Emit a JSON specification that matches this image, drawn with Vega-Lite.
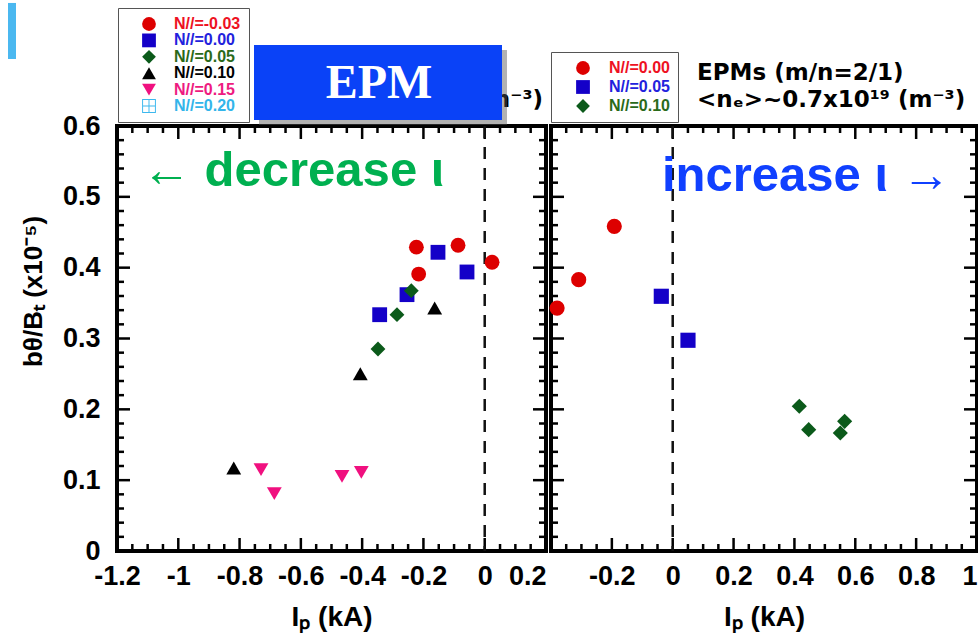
{
  "$schema": "https://vega.github.io/schema/vega-lite/v6.json",
  "padding": {"left": 6, "top": 0, "right": 0, "bottom": 0},
  "bounds": "flush",
  "spacing": 5,
  "datasets": {
    "left": [
      {"ip": -0.1525, "b": 0.4217, "n": "N//=0.00"},
      {"ip": -0.0578, "b": 0.3939, "n": "N//=0.00"},
      {"ip": -0.2536, "b": 0.3619, "n": "N//=0.00"},
      {"ip": -0.3428, "b": 0.3336, "n": "N//=0.00"},
      {"ip": -0.223, "b": 0.429, "n": "N//=-0.03"},
      {"ip": -0.2155, "b": 0.391, "n": "N//=-0.03"},
      {"ip": -0.087, "b": 0.4316, "n": "N//=-0.03"},
      {"ip": 0.024, "b": 0.4076, "n": "N//=-0.03"},
      {"ip": -0.2395, "b": 0.3675, "n": "N//=0.05"},
      {"ip": -0.2863, "b": 0.3336, "n": "N//=0.05"},
      {"ip": -0.3483, "b": 0.2852, "n": "N//=0.05"},
      {"ip": -0.1633, "b": 0.343, "n": "N//=0.10"},
      {"ip": -0.406, "b": 0.2503, "n": "N//=0.10"},
      {"ip": -0.819, "b": 0.1172, "n": "N//=0.10"},
      {"ip": -0.73, "b": 0.1148, "n": "N//=0.15"},
      {"ip": -0.6866, "b": 0.0809, "n": "N//=0.15"},
      {"ip": -0.4657, "b": 0.1054, "n": "N//=0.15"},
      {"ip": -0.4027, "b": 0.111, "n": "N//=0.15"}
    ],
    "right": [
      {"ip": -0.38, "b": 0.343, "n": "N//=0.00"},
      {"ip": -0.309, "b": 0.383, "n": "N//=0.00"},
      {"ip": -0.192, "b": 0.4584, "n": "N//=0.00"},
      {"ip": -0.0375, "b": 0.3596, "n": "N//=0.05"},
      {"ip": 0.0502, "b": 0.2975, "n": "N//=0.05"},
      {"ip": 0.416, "b": 0.2043, "n": "N//=0.10"},
      {"ip": 0.4469, "b": 0.1713, "n": "N//=0.10"},
      {"ip": 0.5508, "b": 0.1666, "n": "N//=0.10"},
      {"ip": 0.565, "b": 0.1831, "n": "N//=0.10"}
    ]
  },
  "hconcat": [
    {
      "width": 429,
      "height": 425,
      "data": {"name": "left"},
      "resolve": {"scale": {"x": "independent", "y": "independent"}, "axis": {"x": "independent", "y": "independent"}},
      "layer": [
        {"data": {"values": [{"v": -1.2}, {"v": -1.0}, {"v": -0.8}, {"v": -0.6}, {"v": -0.4}, {"v": -0.2}, {"v": 0}, {"v": 0.2}]},
          "mark": {"type": "rule", "strokeWidth": 2.5, "color": "black"},
          "encoding": {"x": {"field": "v", "type": "quantitative", "scale": {"domain": [-1.2, 0.2], "nice": false, "zero": false}, "axis": null},
            "y": {"datum": 0, "type": "quantitative", "scale": {"domain": [0, 0.6], "nice": false, "zero": false}, "axis": null}, "y2": {"datum": 0.01835}}},
        {"data": {"values": [{"v": -1.2}, {"v": -1.0}, {"v": -0.8}, {"v": -0.6}, {"v": -0.4}, {"v": -0.2}, {"v": 0}, {"v": 0.2}]},
          "mark": {"type": "rule", "strokeWidth": 2.5, "color": "black"},
          "encoding": {"x": {"field": "v", "type": "quantitative", "scale": {"domain": [-1.2, 0.2], "nice": false, "zero": false}, "axis": null},
            "y": {"datum": 0.6, "type": "quantitative", "scale": {"domain": [0, 0.6], "nice": false, "zero": false}, "axis": null}, "y2": {"datum": 0.58165}}},
        {"data": {"values": [{"v": -1.15}, {"v": -1.1}, {"v": -1.05}, {"v": -0.95}, {"v": -0.9}, {"v": -0.85}, {"v": -0.75}, {"v": -0.7}, {"v": -0.65}, {"v": -0.55}, {"v": -0.5}, {"v": -0.45}, {"v": -0.35}, {"v": -0.3}, {"v": -0.25}, {"v": -0.15}, {"v": -0.1}, {"v": -0.05}, {"v": 0.05}, {"v": 0.1}, {"v": 0.15}]},
          "mark": {"type": "rule", "strokeWidth": 2.5, "color": "black"},
          "encoding": {"x": {"field": "v", "type": "quantitative", "scale": {"domain": [-1.2, 0.2], "nice": false, "zero": false}, "axis": null},
            "y": {"datum": 0, "type": "quantitative", "scale": {"domain": [0, 0.6], "nice": false, "zero": false}, "axis": null}, "y2": {"datum": 0.00988}}},
        {"data": {"values": [{"v": -1.15}, {"v": -1.1}, {"v": -1.05}, {"v": -0.95}, {"v": -0.9}, {"v": -0.85}, {"v": -0.75}, {"v": -0.7}, {"v": -0.65}, {"v": -0.55}, {"v": -0.5}, {"v": -0.45}, {"v": -0.35}, {"v": -0.3}, {"v": -0.25}, {"v": -0.15}, {"v": -0.1}, {"v": -0.05}, {"v": 0.05}, {"v": 0.1}, {"v": 0.15}]},
          "mark": {"type": "rule", "strokeWidth": 2.5, "color": "black"},
          "encoding": {"x": {"field": "v", "type": "quantitative", "scale": {"domain": [-1.2, 0.2], "nice": false, "zero": false}, "axis": null},
            "y": {"datum": 0.6, "type": "quantitative", "scale": {"domain": [0, 0.6], "nice": false, "zero": false}, "axis": null}, "y2": {"datum": 0.59012}}},
        {"data": {"values": [{"v": 0}, {"v": 0.1}, {"v": 0.2}, {"v": 0.3}, {"v": 0.4}, {"v": 0.5}, {"v": 0.6}]},
          "mark": {"type": "rule", "strokeWidth": 2.5, "color": "black"},
          "encoding": {"y": {"field": "v", "type": "quantitative", "scale": {"domain": [0, 0.6], "nice": false, "zero": false}, "axis": null},
            "x": {"datum": -1.2, "type": "quantitative", "scale": {"domain": [-1.2, 0.2], "nice": false, "zero": false}, "axis": null}, "x2": {"datum": -1.1576}}},
        {"data": {"values": [{"v": 0}, {"v": 0.1}, {"v": 0.2}, {"v": 0.3}, {"v": 0.4}, {"v": 0.5}, {"v": 0.6}]},
          "mark": {"type": "rule", "strokeWidth": 2.5, "color": "black"},
          "encoding": {"y": {"field": "v", "type": "quantitative", "scale": {"domain": [0, 0.6], "nice": false, "zero": false}, "axis": null},
            "x": {"datum": 0.2, "type": "quantitative", "scale": {"domain": [-1.2, 0.2], "nice": false, "zero": false}, "axis": null}, "x2": {"datum": 0.1576}}},
        {"data": {"values": [{"v": 0.02}, {"v": 0.04}, {"v": 0.06}, {"v": 0.08}, {"v": 0.12}, {"v": 0.14}, {"v": 0.16}, {"v": 0.18}, {"v": 0.22}, {"v": 0.24}, {"v": 0.26}, {"v": 0.28}, {"v": 0.32}, {"v": 0.34}, {"v": 0.36}, {"v": 0.38}, {"v": 0.42}, {"v": 0.44}, {"v": 0.46}, {"v": 0.48}, {"v": 0.52}, {"v": 0.54}, {"v": 0.56}, {"v": 0.58}]},
          "mark": {"type": "rule", "strokeWidth": 2.5, "color": "black"},
          "encoding": {"y": {"field": "v", "type": "quantitative", "scale": {"domain": [0, 0.6], "nice": false, "zero": false}, "axis": null},
            "x": {"datum": -1.2, "type": "quantitative", "scale": {"domain": [-1.2, 0.2], "nice": false, "zero": false}, "axis": null}, "x2": {"datum": -1.17716}}},
        {"data": {"values": [{"v": 0.02}, {"v": 0.04}, {"v": 0.06}, {"v": 0.08}, {"v": 0.12}, {"v": 0.14}, {"v": 0.16}, {"v": 0.18}, {"v": 0.22}, {"v": 0.24}, {"v": 0.26}, {"v": 0.28}, {"v": 0.32}, {"v": 0.34}, {"v": 0.36}, {"v": 0.38}, {"v": 0.42}, {"v": 0.44}, {"v": 0.46}, {"v": 0.48}, {"v": 0.52}, {"v": 0.54}, {"v": 0.56}, {"v": 0.58}]},
          "mark": {"type": "rule", "strokeWidth": 2.5, "color": "black"},
          "encoding": {"y": {"field": "v", "type": "quantitative", "scale": {"domain": [0, 0.6], "nice": false, "zero": false}, "axis": null},
            "x": {"datum": 0.2, "type": "quantitative", "scale": {"domain": [-1.2, 0.2], "nice": false, "zero": false}, "axis": null}, "x2": {"datum": 0.17716}}},
        {
          "data": {"values": [{}]},
          "mark": {"type": "rule", "strokeDash": [12, 9], "strokeWidth": 2.5, "color": "#111111"},
          "encoding": {
            "x": {"datum": 0, "type": "quantitative", "scale": {"domain": [-1.2, 0.2], "nice": false, "zero": false}, "axis": null}
          }
        },
        {
          "mark": {"type": "point", "filled": true, "opacity": 1, "size": 220},
          "encoding": {
            "x": {"field": "ip", "type": "quantitative", "scale": {"domain": [-1.2, 0.2], "nice": false, "zero": false},
              "axis": {"orient": "bottom", "values": [-1.2, -1, -0.8, -0.6, -0.4, -0.2, 0, 0.2], "ticks": false, "domain": false, "grid": false, "title": "Iₚ (kA)",
                "labelExpr": "'' + round(datum.value*100)/100",
                "labelAlign": {"condition": {"test": "datum.value > 0.1", "value": "right"}, "value": "center"},
                "labelPadding": 12, "titlePadding": 14}},
            "y": {"field": "b", "type": "quantitative", "scale": {"domain": [0, 0.6], "nice": false, "zero": false},
              "axis": {"orient": "left", "values": [0, 0.1, 0.2, 0.3, 0.4, 0.5, 0.6], "ticks": false, "domain": false, "grid": false, "title": "bθ/Bₜ (x10⁻⁵)",
                "labelExpr": "'' + round(datum.value*100)/100", "labelPadding": 17, "titlePadding": 16, "titleFontSize": 26, "titleY": 165}},
            "color": {"field": "n", "type": "nominal",
              "scale": {"domain": ["N//=-0.03", "N//=0.00", "N//=0.05", "N//=0.10", "N//=0.15", "N//=0.20"], "range": ["#dd0000", "#1400c8", "#0b5a1a", "#000000", "#f0107f", "#3cb8ee"]},
              "legend": {"title": null, "orient": "none", "legendX": 1, "legendY": -118, "symbolOffset": 15, "labelOffset": 17, "rowPadding": 0.4,
                "encoding": {
                  "labels": {
                    "fill": {"condition": [
                      {"test": "datum.value==='N//=-0.03'", "value": "#ee1122"},
                      {"test": "datum.value==='N//=0.00'", "value": "#2222dd"},
                      {"test": "datum.value==='N//=0.05'", "value": "#2a6a1a"},
                      {"test": "datum.value==='N//=0.10'", "value": "#000000"},
                      {"test": "datum.value==='N//=0.15'", "value": "#ee1a80"}], "value": "#33b5ea"}}
                }}},
            "shape": {"field": "n", "type": "nominal",
              "scale": {"domain": ["N//=-0.03", "N//=0.00", "N//=0.05", "N//=0.10", "N//=0.15", "N//=0.20"], "range": ["circle", "square", "diamond", "triangle-up", "triangle-down", "M-1,-1H1V1H-1Z M-0.86,-0.86V-0.07H-0.07V-0.86Z M0.07,-0.86V-0.07H0.86V-0.86Z M-0.86,0.07V0.86H-0.07V0.07Z M0.07,0.07V0.86H0.86V0.07Z"]}}
          }
        },
        {
          "data": {"values": [{}]},
          "mark": {"type": "text", "text": "← decrease ι", "font": "Liberation Sans", "fontWeight": "bold", "fontSize": 49, "color": "#00b050", "align": "left", "baseline": "alphabetic"},
          "encoding": {
            "x": {"datum": -1.1184, "type": "quantitative", "scale": {"domain": [-1.2, 0.2], "nice": false, "zero": false}, "axis": null},
            "y": {"datum": 0.5153, "type": "quantitative", "scale": {"domain": [0, 0.6], "nice": false, "zero": false}, "axis": null}
          }
        },
        {
          "data": {"values": [{}]},
          "mark": {"type": "text", "text": "EPMs (m/n=2/1)", "font": "DejaVu Sans", "fontWeight": "bold", "fontSize": 23, "color": "black", "align": "right", "baseline": "alphabetic"},
          "encoding": {
            "x": {"datum": 0.0107, "type": "quantitative", "scale": {"domain": [-1.2, 0.2], "nice": false, "zero": false}, "axis": null},
            "y": {"datum": 0.665, "type": "quantitative", "scale": {"domain": [0, 0.6], "nice": false, "zero": false}, "axis": null}
          }
        },
        {
          "data": {"values": [{}]},
          "mark": {"type": "text", "text": "<nₑ>~0.7x10¹⁹ (m⁻³)", "font": "DejaVu Sans", "fontWeight": "bold", "fontSize": 23, "color": "black", "align": "right", "baseline": "alphabetic"},
          "encoding": {
            "x": {"datum": 0.1902, "type": "quantitative", "scale": {"domain": [-1.2, 0.2], "nice": false, "zero": false}, "axis": null},
            "y": {"datum": 0.6268, "type": "quantitative", "scale": {"domain": [0, 0.6], "nice": false, "zero": false}, "axis": null}
          }
        },
        {
          "data": {"values": [{}]},
          "mark": {"type": "rect", "color": "#555555", "opacity": 0.45},
          "encoding": {
            "x": {"datum": -0.7366, "type": "quantitative", "scale": {"domain": [-1.2, 0.2], "nice": false, "zero": false}, "axis": null},
            "x2": {"datum": 0.0727},
            "y": {"datum": 0.7073, "type": "quantitative", "scale": {"domain": [0, 0.6], "nice": false, "zero": false}, "axis": null},
            "y2": {"datum": 0.6014}
          }
        },
        {
          "data": {"values": [{}]},
          "mark": {"type": "rect", "color": "#0a42f7", "opacity": 1},
          "encoding": {
            "x": {"datum": -0.7529, "type": "quantitative", "scale": {"domain": [-1.2, 0.2], "nice": false, "zero": false}, "axis": null},
            "x2": {"datum": 0.0564},
            "y": {"datum": 0.7144, "type": "quantitative", "scale": {"domain": [0, 0.6], "nice": false, "zero": false}, "axis": null},
            "y2": {"datum": 0.6085}
          }
        },
        {
          "data": {"values": [{}]},
          "mark": {"type": "text", "text": "EPM", "font": "Liberation Serif", "fontWeight": "bold", "fontSize": 48, "color": "white", "align": "center", "baseline": "alphabetic"},
          "encoding": {
            "x": {"datum": -0.345, "type": "quantitative", "scale": {"domain": [-1.2, 0.2], "nice": false, "zero": false}, "axis": null},
            "y": {"datum": 0.6395, "type": "quantitative", "scale": {"domain": [0, 0.6], "nice": false, "zero": false}, "axis": null}
          }
        },
        {
          "data": {"values": [{}]},
          "mark": {"type": "rect", "color": "#4bb8f0", "opacity": 1},
          "encoding": {
            "x": {"datum": -1.5557, "type": "quantitative", "scale": {"domain": [-1.2, 0.2], "nice": false, "zero": false}, "axis": null},
            "x2": {"datum": -1.5296},
            "y": {"datum": 0.7737, "type": "quantitative", "scale": {"domain": [0, 0.6], "nice": false, "zero": false}, "axis": null},
            "y2": {"datum": 0.6946}
          }
        }
      ]
    },
    {
      "width": 426,
      "height": 425,
      "data": {"name": "right"},
      "resolve": {"scale": {"x": "independent", "y": "independent"}, "axis": {"x": "independent", "y": "independent"}},
      "layer": [
        {"data": {"values": [{"v": -0.4}, {"v": -0.2}, {"v": 0}, {"v": 0.2}, {"v": 0.4}, {"v": 0.6}, {"v": 0.8}, {"v": 1.0}]},
          "mark": {"type": "rule", "strokeWidth": 2.5, "color": "black"},
          "encoding": {"x": {"field": "v", "type": "quantitative", "scale": {"domain": [-0.4, 1.0], "nice": false, "zero": false}, "axis": null},
            "y": {"datum": 0, "type": "quantitative", "scale": {"domain": [0, 0.6], "nice": false, "zero": false}, "axis": null}, "y2": {"datum": 0.01835}}},
        {"data": {"values": [{"v": -0.4}, {"v": -0.2}, {"v": 0}, {"v": 0.2}, {"v": 0.4}, {"v": 0.6}, {"v": 0.8}, {"v": 1.0}]},
          "mark": {"type": "rule", "strokeWidth": 2.5, "color": "black"},
          "encoding": {"x": {"field": "v", "type": "quantitative", "scale": {"domain": [-0.4, 1.0], "nice": false, "zero": false}, "axis": null},
            "y": {"datum": 0.6, "type": "quantitative", "scale": {"domain": [0, 0.6], "nice": false, "zero": false}, "axis": null}, "y2": {"datum": 0.58165}}},
        {"data": {"values": [{"v": -0.35}, {"v": -0.3}, {"v": -0.25}, {"v": -0.15}, {"v": -0.1}, {"v": -0.05}, {"v": 0.05}, {"v": 0.1}, {"v": 0.15}, {"v": 0.25}, {"v": 0.3}, {"v": 0.35}, {"v": 0.45}, {"v": 0.5}, {"v": 0.55}, {"v": 0.65}, {"v": 0.7}, {"v": 0.75}, {"v": 0.85}, {"v": 0.9}, {"v": 0.95}]},
          "mark": {"type": "rule", "strokeWidth": 2.5, "color": "black"},
          "encoding": {"x": {"field": "v", "type": "quantitative", "scale": {"domain": [-0.4, 1.0], "nice": false, "zero": false}, "axis": null},
            "y": {"datum": 0, "type": "quantitative", "scale": {"domain": [0, 0.6], "nice": false, "zero": false}, "axis": null}, "y2": {"datum": 0.00988}}},
        {"data": {"values": [{"v": -0.35}, {"v": -0.3}, {"v": -0.25}, {"v": -0.15}, {"v": -0.1}, {"v": -0.05}, {"v": 0.05}, {"v": 0.1}, {"v": 0.15}, {"v": 0.25}, {"v": 0.3}, {"v": 0.35}, {"v": 0.45}, {"v": 0.5}, {"v": 0.55}, {"v": 0.65}, {"v": 0.7}, {"v": 0.75}, {"v": 0.85}, {"v": 0.9}, {"v": 0.95}]},
          "mark": {"type": "rule", "strokeWidth": 2.5, "color": "black"},
          "encoding": {"x": {"field": "v", "type": "quantitative", "scale": {"domain": [-0.4, 1.0], "nice": false, "zero": false}, "axis": null},
            "y": {"datum": 0.6, "type": "quantitative", "scale": {"domain": [0, 0.6], "nice": false, "zero": false}, "axis": null}, "y2": {"datum": 0.59012}}},
        {"data": {"values": [{"v": 0}, {"v": 0.1}, {"v": 0.2}, {"v": 0.3}, {"v": 0.4}, {"v": 0.5}, {"v": 0.6}]},
          "mark": {"type": "rule", "strokeWidth": 2.5, "color": "black"},
          "encoding": {"y": {"field": "v", "type": "quantitative", "scale": {"domain": [0, 0.6], "nice": false, "zero": false}, "axis": null},
            "x": {"datum": -0.4, "type": "quantitative", "scale": {"domain": [-0.4, 1.0], "nice": false, "zero": false}, "axis": null}, "x2": {"datum": -0.3573}}},
        {"data": {"values": [{"v": 0}, {"v": 0.1}, {"v": 0.2}, {"v": 0.3}, {"v": 0.4}, {"v": 0.5}, {"v": 0.6}]},
          "mark": {"type": "rule", "strokeWidth": 2.5, "color": "black"},
          "encoding": {"y": {"field": "v", "type": "quantitative", "scale": {"domain": [0, 0.6], "nice": false, "zero": false}, "axis": null},
            "x": {"datum": 1.0, "type": "quantitative", "scale": {"domain": [-0.4, 1.0], "nice": false, "zero": false}, "axis": null}, "x2": {"datum": 0.9573}}},
        {"data": {"values": [{"v": 0.02}, {"v": 0.04}, {"v": 0.06}, {"v": 0.08}, {"v": 0.12}, {"v": 0.14}, {"v": 0.16}, {"v": 0.18}, {"v": 0.22}, {"v": 0.24}, {"v": 0.26}, {"v": 0.28}, {"v": 0.32}, {"v": 0.34}, {"v": 0.36}, {"v": 0.38}, {"v": 0.42}, {"v": 0.44}, {"v": 0.46}, {"v": 0.48}, {"v": 0.52}, {"v": 0.54}, {"v": 0.56}, {"v": 0.58}]},
          "mark": {"type": "rule", "strokeWidth": 2.5, "color": "black"},
          "encoding": {"y": {"field": "v", "type": "quantitative", "scale": {"domain": [0, 0.6], "nice": false, "zero": false}, "axis": null},
            "x": {"datum": -0.4, "type": "quantitative", "scale": {"domain": [-0.4, 1.0], "nice": false, "zero": false}, "axis": null}, "x2": {"datum": -0.377}}},
        {"data": {"values": [{"v": 0.02}, {"v": 0.04}, {"v": 0.06}, {"v": 0.08}, {"v": 0.12}, {"v": 0.14}, {"v": 0.16}, {"v": 0.18}, {"v": 0.22}, {"v": 0.24}, {"v": 0.26}, {"v": 0.28}, {"v": 0.32}, {"v": 0.34}, {"v": 0.36}, {"v": 0.38}, {"v": 0.42}, {"v": 0.44}, {"v": 0.46}, {"v": 0.48}, {"v": 0.52}, {"v": 0.54}, {"v": 0.56}, {"v": 0.58}]},
          "mark": {"type": "rule", "strokeWidth": 2.5, "color": "black"},
          "encoding": {"y": {"field": "v", "type": "quantitative", "scale": {"domain": [0, 0.6], "nice": false, "zero": false}, "axis": null},
            "x": {"datum": 1.0, "type": "quantitative", "scale": {"domain": [-0.4, 1.0], "nice": false, "zero": false}, "axis": null}, "x2": {"datum": 0.977}}},
        {
          "data": {"values": [{}]},
          "mark": {"type": "rule", "strokeDash": [12, 9], "strokeWidth": 2.5, "color": "#111111"},
          "encoding": {
            "x": {"datum": 0, "type": "quantitative", "scale": {"domain": [-0.4, 1.0], "nice": false, "zero": false}, "axis": null}
          }
        },
        {
          "mark": {"type": "point", "filled": true, "opacity": 1, "size": 230},
          "encoding": {
            "x": {"field": "ip", "type": "quantitative", "scale": {"domain": [-0.4, 1.0], "nice": false, "zero": false},
              "axis": {"orient": "bottom", "values": [-0.2, 0, 0.2, 0.4, 0.6, 0.8, 1], "ticks": false, "domain": false, "grid": false, "title": "Iₚ (kA)",
                "labelExpr": "'' + round(datum.value*100)/100", "labelPadding": 12, "titlePadding": 14}},
            "y": {"field": "b", "type": "quantitative", "scale": {"domain": [0, 0.6], "nice": false, "zero": false}, "axis": null},
            "color": {"field": "n", "type": "nominal",
              "scale": {"domain": ["N//=0.00", "N//=0.05", "N//=0.10"], "range": ["#dd0000", "#1400c8", "#0b5a1a"]},
              "legend": {"title": null, "orient": "none", "legendX": 0, "legendY": -74, "symbolOffset": 16, "labelOffset": 18, "rowPadding": 3,
                "encoding": {
                  "labels": {
                    "fill": {"condition": [
                      {"test": "datum.value==='N//=0.00'", "value": "#ee1122"},
                      {"test": "datum.value==='N//=0.05'", "value": "#2222dd"}], "value": "#2a6a1a"}}
                }}},
            "shape": {"field": "n", "type": "nominal",
              "scale": {"domain": ["N//=0.00", "N//=0.05", "N//=0.10"], "range": ["circle", "square", "diamond"]}}
          }
        },
        {
          "data": {"values": [{}]},
          "mark": {"type": "text", "text": "increase ι →", "font": "Liberation Sans", "fontWeight": "bold", "fontSize": 49, "color": "#1040ff", "align": "left", "baseline": "alphabetic"},
          "encoding": {
            "x": {"datum": -0.0352, "type": "quantitative", "scale": {"domain": [-0.4, 1.0], "nice": false, "zero": false}, "axis": null},
            "y": {"datum": 0.5082, "type": "quantitative", "scale": {"domain": [0, 0.6], "nice": false, "zero": false}, "axis": null}
          }
        },
        {
          "data": {"values": [{}]},
          "mark": {"type": "text", "text": "EPMs (m/n=2/1)", "font": "DejaVu Sans", "fontWeight": "bold", "fontSize": 23, "color": "black", "align": "left", "baseline": "alphabetic"},
          "encoding": {
            "x": {"datum": 0.0798, "type": "quantitative", "scale": {"domain": [-0.4, 1.0], "nice": false, "zero": false}, "axis": null},
            "y": {"datum": 0.665, "type": "quantitative", "scale": {"domain": [0, 0.6], "nice": false, "zero": false}, "axis": null}
          }
        },
        {
          "data": {"values": [{}]},
          "mark": {"type": "text", "text": "<nₑ>~0.7x10¹⁹ (m⁻³)", "font": "DejaVu Sans", "fontWeight": "bold", "fontSize": 23, "color": "black", "align": "left", "baseline": "alphabetic"},
          "encoding": {
            "x": {"datum": 0.0798, "type": "quantitative", "scale": {"domain": [-0.4, 1.0], "nice": false, "zero": false}, "axis": null},
            "y": {"datum": 0.6268, "type": "quantitative", "scale": {"domain": [0, 0.6], "nice": false, "zero": false}, "axis": null}
          }
        }
      ]
    }
  ],
  "resolve": {"scale": {"x": "independent", "y": "independent", "color": "independent", "shape": "independent"}},
  "config": {
    "view": {"stroke": "black", "strokeWidth": 4},
    "axis": {"labelFont": "Liberation Sans", "labelFontWeight": "bold", "labelFontSize": 27, "labelColor": "black",
      "titleFont": "Liberation Sans", "titleFontWeight": "bold", "titleFontSize": 28, "titleColor": "black", "labelOverlap": false},
    "legend": {"labelFont": "Liberation Sans", "labelFontWeight": "bold", "labelFontSize": 16, "symbolSize": 190,
      "strokeColor": "#555555", "fillColor": "white", "padding": 8, "symbolStrokeWidth": 0}
  }
}
